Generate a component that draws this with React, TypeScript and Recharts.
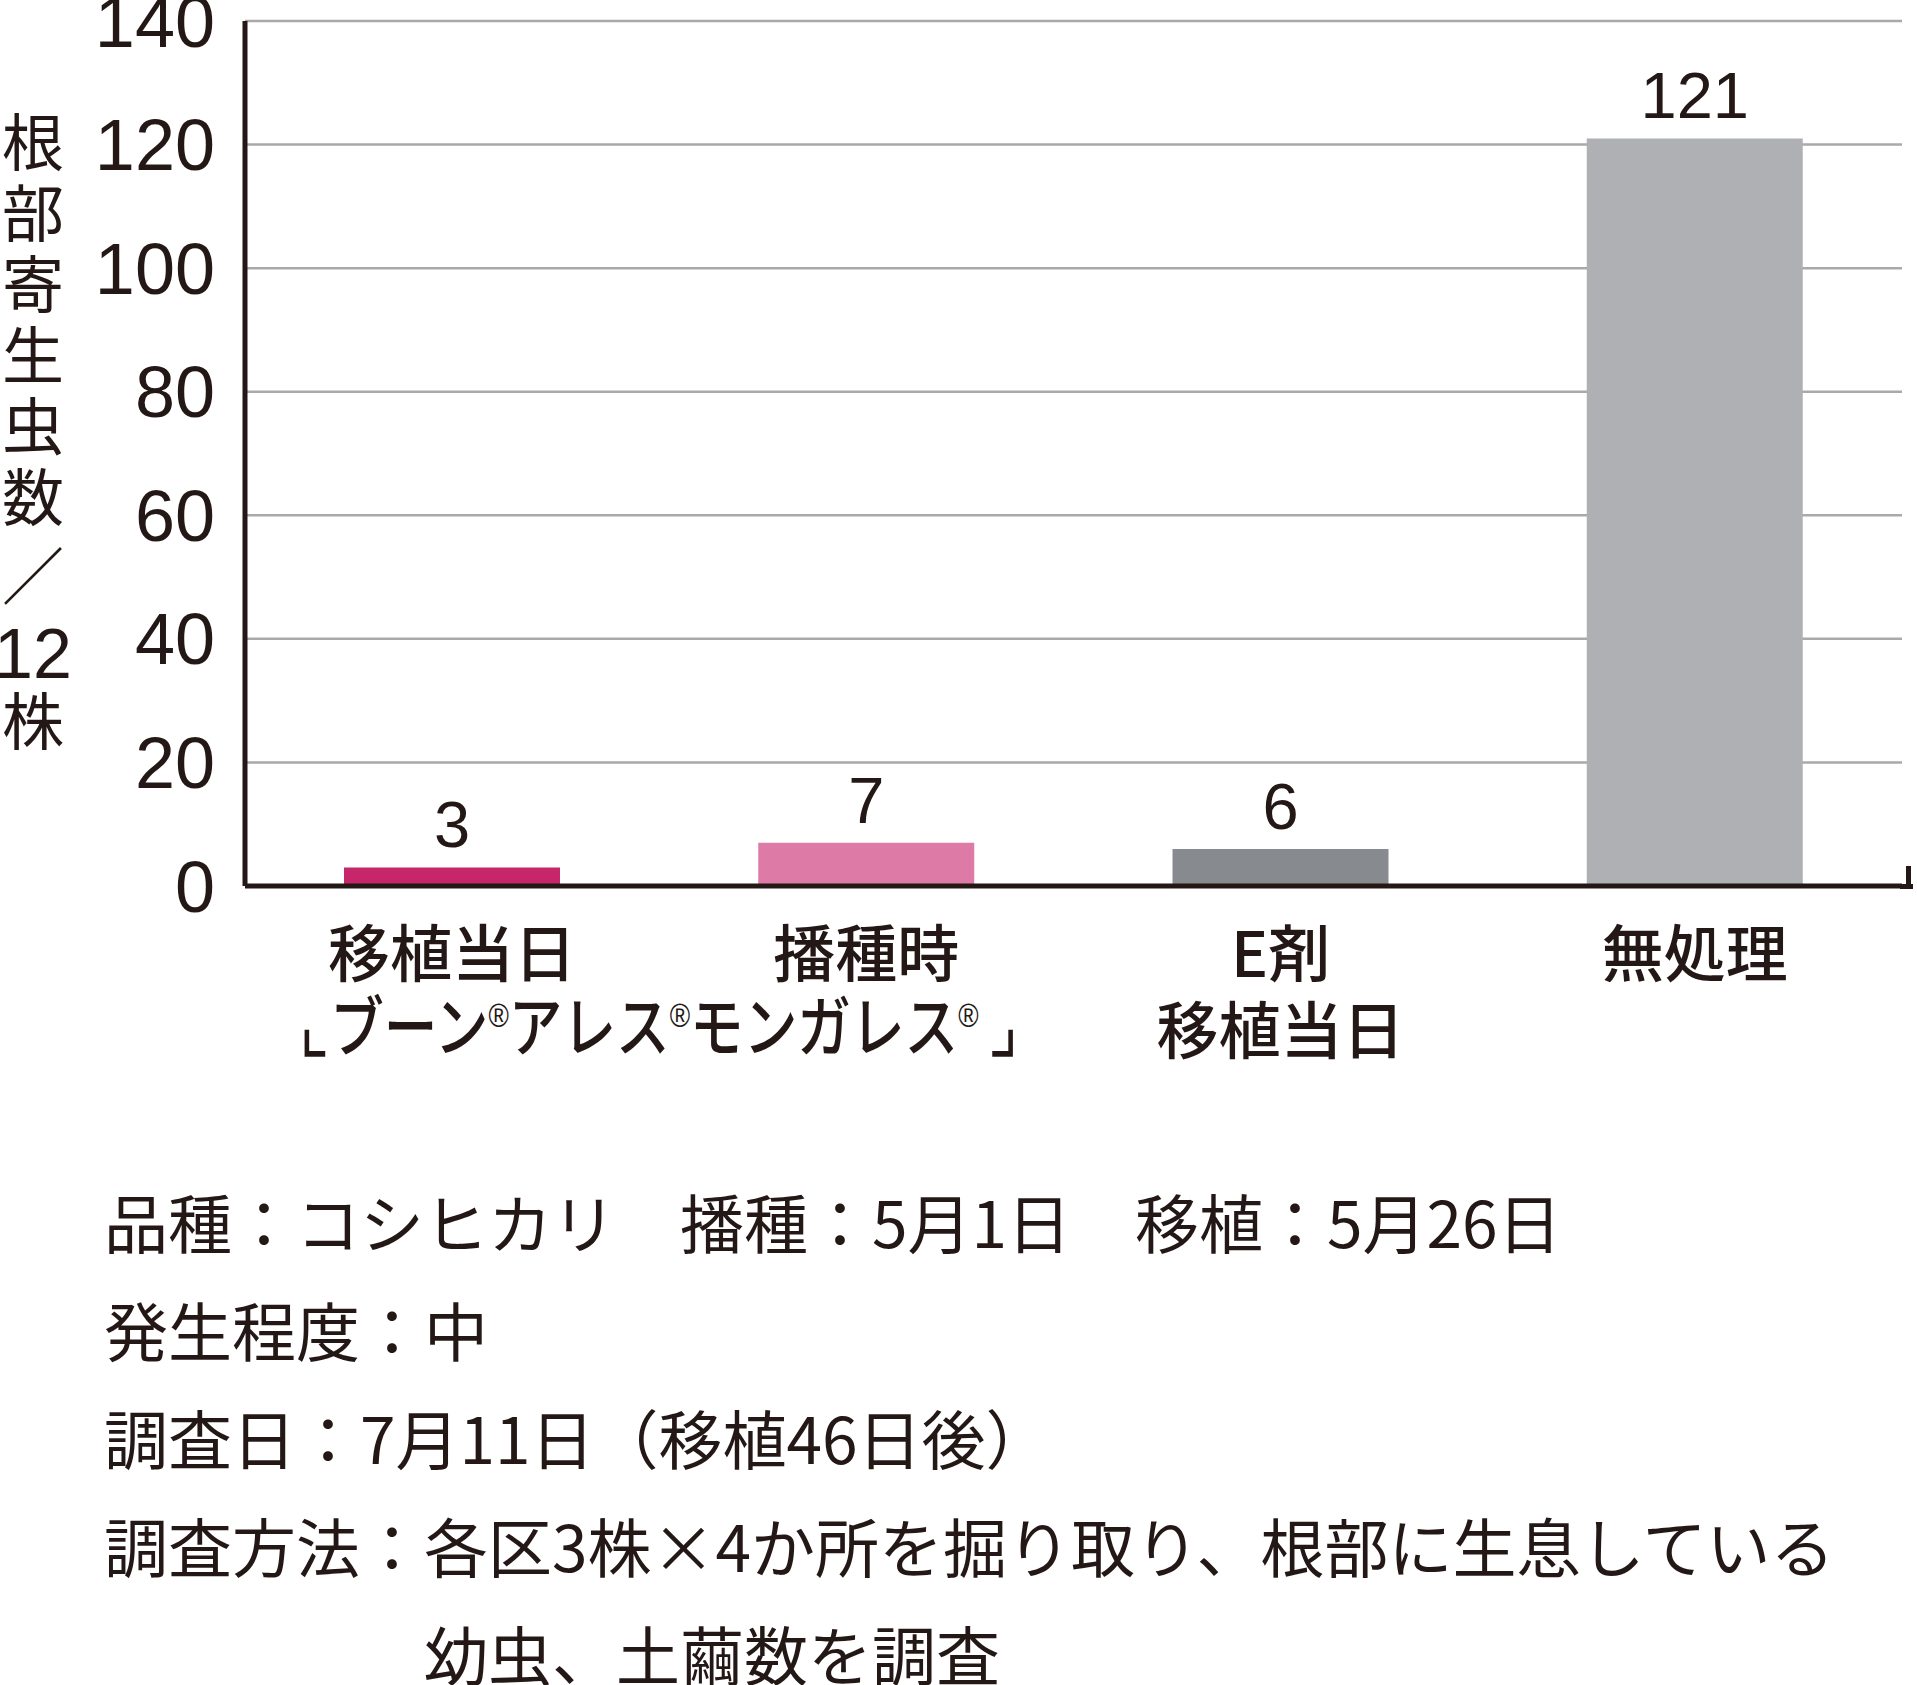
import { BarChart, Bar, XAxis, YAxis, CartesianGrid, Cell, LabelList } from "recharts";

const categories = ["移植当日", "播種時", "E剤 移植当日", "無処理"];
const categoryLines = [["移植当日"], ["播種時"], ["E剤", "移植当日"], ["無処理"]];
const counts = [3, 7, 6, 121];
const barColors = ["#c8266a", "#dd7ba6", "#878b8f", "#aeb0b4"];
const yTicks = [0, 20, 40, 60, 80, 100, 120, 140];
const productNote = ["ブーン", "アレス", "モンガレス"];
const yLabelChars = ["根", "部", "寄", "生", "虫", "数"];
const notes = [
  "品種：コシヒカリ　播種：5月1日　移植：5月26日",
  "発生程度：中",
  "調査日：7月11日（移植46日後）",
  "調査方法：各区3株×4か所を掘り取り、根部に生息している",
];
const notesCont = "幼虫、土繭数を調査";

const data = categories.map((name, i) => ({ name, value: counts[i] }));

const INK = "#231815";
const LATIN = "'Liberation Sans', Arial, sans-serif";
const CJK = "'Noto Sans CJK JP', 'Noto Sans', sans-serif";
const SYM = "'DejaVu Sans', sans-serif";

const W = 1917;
const H = 1110;
const PLOT_LEFT = 245;
const PLOT_RIGHT = 1902;
const BAND = (PLOT_RIGHT - PLOT_LEFT) / categories.length;

function ProductNote({ x, y }: { x: number; y: number }) {
  const parts: any[] = [];
  parts.push(
    <tspan key="l" fontFamily={SYM} fontSize={80} fontWeight={200}>
      ⌞
    </tspan>
  );
  productNote.forEach((p, i) => {
    parts.push(
      <tspan key={"p" + i} dy={i === 0 ? 0 : 24}>
        {p}
      </tspan>
    );
    parts.push(
      <tspan key={"r" + i} dy={-24} fontSize={34} fontFamily={LATIN} fontWeight={400}>
        ®
      </tspan>
    );
  });
  parts.push(
    <tspan key="rb" dy={24} dx={12} fontFamily={SYM} fontSize={80} fontWeight={200}>
      ⌟
    </tspan>
  );
  return (
    <text
      x={x}
      y={y}
      textAnchor="middle"
      fontFamily={CJK}
      fontWeight={500}
      fontSize={66}
      textLength={720}
      lengthAdjust="spacingAndGlyphs"
      fill={INK}
    >
      {parts}
    </text>
  );
}

function CategoryTick(props: any) {
  const { x, y, payload, index } = props;
  const lines = categoryLines[index] || [payload.value];
  return (
    <g>
      {lines.map((t: string, i: number) => (
        <text
          key={i}
          x={x}
          y={y + 83 + i * 77}
          textAnchor="middle"
          fontFamily={CJK}
          fontWeight={500}
          fontSize={62}
          fill={INK}
        >
          {t}
        </text>
      ))}
      {index === 0 && <ProductNote x={x + BAND / 2} y={y + 157} />}
    </g>
  );
}

function ValueLabel(props: any) {
  const { x, y, width, value } = props;
  return (
    <text
      x={x + width / 2}
      y={y - 20}
      textAnchor="middle"
      fontFamily={LATIN}
      fontSize={65}
      fill={INK}
    >
      {value}
    </text>
  );
}

export default function App() {
  return (
    <div style={{ position: "absolute", left: 0, top: 0, width: W, height: 1685, background: "#fff" }}>
      <BarChart
        width={W}
        height={H}
        data={data}
        margin={{ top: 21, right: W - PLOT_RIGHT, left: 0, bottom: H - 886 - 190 }}
      >
        <CartesianGrid vertical={false} stroke="#a9a9a9" strokeWidth={2.5} />
        <XAxis
          dataKey="name"
          height={190}
          axisLine={{ stroke: INK, strokeWidth: 5 }}
          tickLine={false}
          interval={0}
          tick={<CategoryTick />}
        />
        <YAxis
          width={PLOT_LEFT}
          domain={[0, 140]}
          ticks={yTicks}
          interval={0}
          axisLine={{ stroke: INK, strokeWidth: 5 }}
          tickLine={false}
          tickMargin={24}
          tick={{ fontFamily: LATIN, fontSize: 72, fill: INK }}
        />
        <Bar dataKey="value" barSize={216} isAnimationActive={false}>
          {data.map((d, i) => (
            <Cell key={d.name} fill={barColors[i]} />
          ))}
          <LabelList dataKey="value" content={<ValueLabel />} />
        </Bar>
      </BarChart>

      {/* right end of the x axis */}
      <div style={{ position: "absolute", left: PLOT_RIGHT - 2, top: 883.5, width: 13, height: 5, background: INK }} />
      <div style={{ position: "absolute", left: 1906, top: 866, width: 5, height: 22, background: INK }} />

      {/* vertical y-axis title */}
      <svg style={{ position: "absolute", left: 0, top: 0 }} width={80} height={800}>
        {yLabelChars.map((c, i) => (
          <text key={c} x={33} y={166 + i * 71} textAnchor="middle" fontFamily={CJK} fontSize={62} fill={INK}>
            {c}
          </text>
        ))}
        <text x={33} y={600} textAnchor="middle" fontFamily={CJK} fontSize={62} fill={INK}>
          ／
        </text>
        <text x={33} y={678} textAnchor="middle" fontFamily={LATIN} fontSize={70} fill={INK}>
          12
        </text>
        <text x={33} y={745} textAnchor="middle" fontFamily={CJK} fontSize={62} fill={INK}>
          株
        </text>
      </svg>

      {/* notes */}
      <svg style={{ position: "absolute", left: 0, top: 1150 }} width={W} height={535}>
        {notes.map((n, i) => (
          <text key={i} x={104} y={98 + i * 108} fontFamily={CJK} fontSize={64} fill={INK}>
            {n}
          </text>
        ))}
        <text x={424} y={530} fontFamily={CJK} fontSize={64} fill={INK}>
          {notesCont}
        </text>
      </svg>
    </div>
  );
}
